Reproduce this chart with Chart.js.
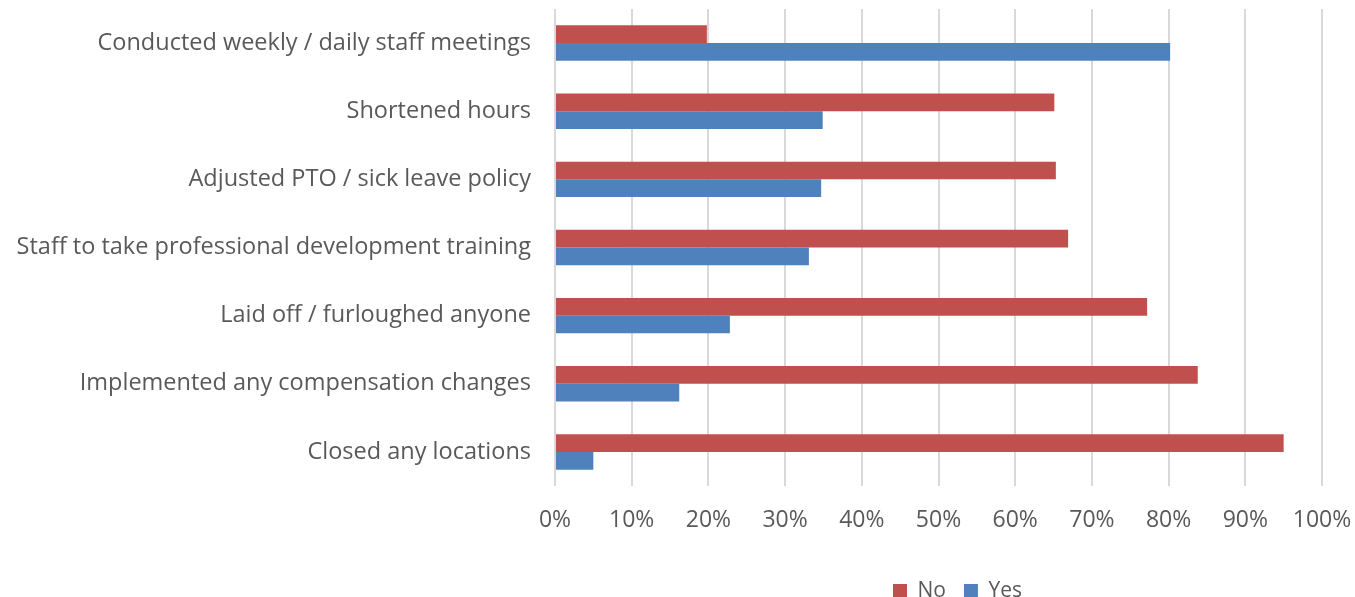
<!DOCTYPE html>
<html>
<head>
<meta charset="utf-8">
<title>Staffing actions</title>
<script src="https://cdn.jsdelivr.net/npm/chart.js@4/dist/chart.umd.min.js"></script>
<style>
    html, body { margin: 0; padding: 0; background: #fff; }
    #wrap { position: relative; width: 1355px; height: 597px; }
</style>
</head>
<body>
<div id="wrap"><canvas id="chart"></canvas></div>
<script>
    // Survey actions, top to bottom
    const categories = [
        'Conducted weekly / daily staff meetings',
        'Shortened hours',
        'Adjusted PTO / sick leave policy',
        'Staff to take professional development training',
        'Laid off / furloughed anyone',
        'Implemented any compensation changes',
        'Closed any locations'
    ];

    // Share of respondents, percent
    const noValues = [19.8, 65.1, 65.3, 66.9, 77.2, 83.8, 95.0];
    const yesValues = [80.2, 34.9, 34.7, 33.1, 22.8, 16.2, 5.0];

    const xTicks = [0, 10, 20, 30, 40, 50, 60, 70, 80, 90, 100];

    const FONT = "'Open Sans', 'Noto Sans', sans-serif";
    const TEXT = '#595959';

    // Legend sits a little right of the plot centre, close to the bottom edge
    const legendShift = {
        id: 'legendShift',
        afterLayout(chart) {
            const lg = chart.legend;
            const area = chart.chartArea;
            const dx = (area.left + area.right) / 2 + 19 - (lg.left + lg.right) / 2;
            lg.left += dx;
            lg.right += dx;
            const dy = 587 - (lg.top + lg.bottom) / 2;
            lg.top += dy;
            lg.bottom += dy;
        }
    };

    new Chart(document.getElementById('chart'), {
        type: 'bar',
        data: {
            labels: categories,
            datasets: [
                { label: 'No', data: noValues, backgroundColor: '#C0504D' },
                { label: 'Yes', data: yesValues, backgroundColor: '#4F81BD' }
            ]
        },
        plugins: [legendShift],
        options: {
            indexAxis: 'y',
            responsive: true,
            maintainAspectRatio: false,
            animation: false,
            layout: { autoPadding: false, padding: { top: 9, right: 33, left: 0, bottom: 0 } },
            categoryPercentage: 0.52,
            barPercentage: 1.0,
            plugins: {
                legend: {
                    position: 'bottom',
                    labels: {
                        boxWidth: 14,
                        boxHeight: 14,
                        padding: 18,
                        color: TEXT,
                        font: { family: FONT, size: 21 }
                    }
                },
                tooltip: { enabled: false }
            },
            scales: {
                x: {
                    min: 0,
                    max: 100,
                    afterBuildTicks: axis => {
                        axis.ticks = xTicks.map(v => ({ value: v }));
                    },
                    afterFit: axis => {
                        axis.height = 62;
                        axis.paddingLeft = 0;
                        axis.paddingRight = 0;
                    },
                    ticks: {
                        callback: v => v + '%',
                        color: TEXT,
                        padding: 21,
                        maxRotation: 0,
                        font: { family: FONT, size: 23 }
                    },
                    grid: { color: '#D9D9D9', lineWidth: 2, drawTicks: false },
                    border: { display: false }
                },
                y: {
                    afterFit: axis => {
                        axis.width = 555;
                        axis.paddingTop = 0;
                        axis.paddingBottom = 0;
                    },
                    ticks: {
                        color: TEXT,
                        padding: 24,
                        font: { family: FONT, size: 23.5 }
                    },
                    grid: { display: false, drawTicks: false },
                    border: { display: false }
                }
            }
        }
    });
</script>
</body>
</html>
